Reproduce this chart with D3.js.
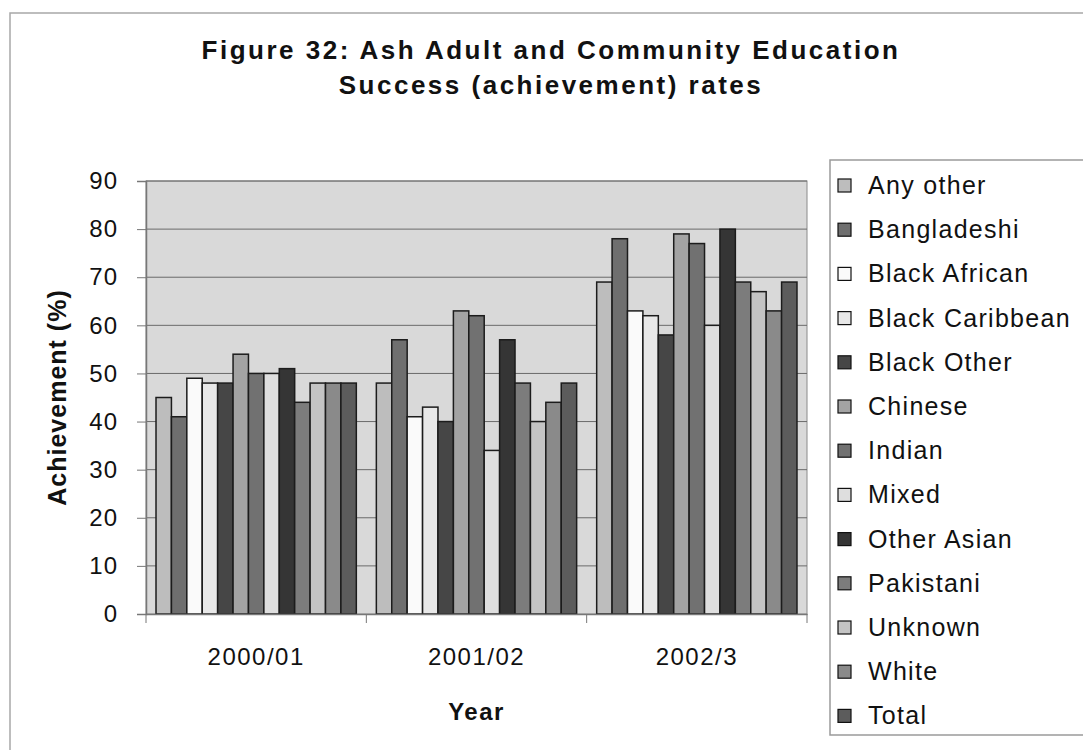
<!DOCTYPE html>
<html>
<head>
<meta charset="utf-8">
<script src="https://cdn.jsdelivr.net/npm/d3@7"></script>
<style>
  body { margin: 0; background: #fff; }
  text { font-family: Arial, "Liberation Sans", sans-serif; fill: #111; }
</style>
</head>
<body>
<div id="chart"></div>
<script>
// Data
const years = ['2000/01', '2001/02', '2002/3'];
const ethnic_groups = ['Any other', 'Bangladeshi', 'Black African', 'Black Caribbean', 'Black Other',
    'Chinese', 'Indian', 'Mixed', 'Other Asian', 'Pakistani', 'Unknown', 'White', 'Total'];
const values_2000_01 = [45, 41, 49, 48, 48, 54, 50, 50, 51, 44, 48, 48, 48];
const values_2001_02 = [48, 57, 41, 43, 40, 63, 62, 34, 57, 48, 40, 44, 48];
const values_2002_3  = [69, 78, 63, 62, 58, 79, 77, 60, 80, 69, 67, 63, 69];
const y_ticks = [0, 10, 20, 30, 40, 50, 60, 70, 80, 90];

const fills = ['#bdbdbd', '#6f6f6f', '#fafafa', '#e8e8e8', '#464646', '#a3a3a3', '#717171',
    '#dedede', '#353535', '#7c7c7c', '#c4c4c4', '#8a8a8a', '#5c5c5c'];

const rows = [values_2000_01, values_2001_02, values_2002_3].map((vals, i) => ({
    year: years[i],
    bars: vals.map((v, j) => ({group: ethnic_groups[j], value: v}))
}));

const width = 1083, height = 750;
const margin = {left: 146, top: 181, right: 276, bottom: 136};
const plot_width = width - margin.left - margin.right;
const plot_height = height - margin.top - margin.bottom;

const svg = d3.select('#chart').append('svg')
    .attr('width', width)
    .attr('height', height);

// outer chart frame
svg.append('rect')
    .attr('x', 10).attr('y', 13)
    .attr('width', width + 20).attr('height', height + 20)
    .attr('fill', '#fff')
    .attr('stroke', '#a8a8a8')
    .attr('stroke-width', 1.5);

// title
const title = svg.append('text')
    .attr('text-anchor', 'middle')
    .style('font-size', '26px')
    .style('font-weight', 'bold')
    .style('letter-spacing', '2.5px');
title.append('tspan').attr('x', 551).attr('y', 59).text('Figure 32: Ash Adult and Community Education');
title.append('tspan').attr('x', 551).attr('y', 94).text('Success (achievement) rates');

const g = svg.append('g').attr('transform', `translate(${margin.left},${margin.top})`);

const x0 = d3.scaleBand().domain(years).range([0, plot_width]);
const x1 = d3.scaleBand().domain(ethnic_groups).range([0, x0.bandwidth()]).paddingOuter(0.65);
const y = d3.scaleLinear().domain([0, 90]).range([plot_height, 0]);

// plot area
g.append('rect')
    .attr('width', plot_width)
    .attr('height', plot_height)
    .attr('fill', '#d9d9d9')
    .attr('stroke', '#8a8a8a');

// gridlines
g.append('g')
    .selectAll('line')
    .data(y_ticks.filter(t => t > 0))
    .enter()
    .append('line')
    .attr('x1', 0).attr('x2', plot_width)
    .attr('y1', d => y(d)).attr('y2', d => y(d))
    .attr('stroke', '#6a6a6a')
    .attr('stroke-width', 1);

// bars
g.selectAll('g.year')
    .data(rows)
    .enter()
    .append('g')
    .attr('class', 'year')
    .attr('transform', d => `translate(${x0(d.year)},0)`)
    .selectAll('rect')
    .data(d => d.bars)
    .enter()
    .append('rect')
    .attr('x', d => x1(d.group))
    .attr('y', d => y(d.value))
    .attr('width', x1.bandwidth())
    .attr('height', d => plot_height - y(d.value))
    .attr('fill', (d, i) => fills[i])
    .attr('stroke', '#1c1c1c')
    .attr('stroke-width', 1.5);

// y axis
const y_axis = d3.axisLeft(y).tickValues(y_ticks).tickSize(9).tickPadding(19);
const yg = g.append('g').call(y_axis);
yg.select('.domain').attr('stroke', '#777').attr('stroke-width', 1.5);
yg.selectAll('line').attr('stroke', '#777');
yg.selectAll('text')
    .style('font-size', '24px')
    .style('letter-spacing', '1px')
    .style('font-family', 'Arial, "Liberation Sans", sans-serif')
    .attr('fill', '#111');

// x axis
const x_axis = d3.axisBottom(x0).tickSize(0).tickPadding(34);
const xg = g.append('g').attr('transform', `translate(0,${plot_height})`).call(x_axis);
xg.select('.domain').attr('stroke', '#777').attr('stroke-width', 1.5);
xg.selectAll('text')
    .style('font-size', '24px')
    .style('letter-spacing', '1.5px')
    .style('font-family', 'Arial, "Liberation Sans", sans-serif')
    .attr('fill', '#111');
// category separators
xg.append('g')
    .selectAll('line')
    .data([0].concat(years.map(yr => x0(yr) + x0.bandwidth())))
    .enter()
    .append('line')
    .attr('x1', d => d).attr('x2', d => d)
    .attr('y1', 0).attr('y2', 9)
    .attr('stroke', '#777');

// axis titles
svg.append('text')
    .attr('text-anchor', 'middle')
    .attr('transform', `translate(66,${margin.top + plot_height / 2})rotate(-90)`)
    .style('font-size', '25px')
    .style('font-weight', 'bold')
    .style('letter-spacing', '1px')
    .text('Achievement (%)');

svg.append('text')
    .attr('text-anchor', 'middle')
    .attr('x', margin.left + plot_width / 2)
    .attr('y', 720)
    .style('font-size', '24px')
    .style('font-weight', 'bold')
    .style('letter-spacing', '1.5px')
    .text('Year');

// legend
const legend = svg.append('g').attr('transform', 'translate(830,160)');
legend.append('rect')
    .attr('width', 280)
    .attr('height', 575)
    .attr('fill', '#fff')
    .attr('stroke', '#9a9a9a')
    .attr('stroke-width', 1.5);

const step = 44.2;
const items = legend.selectAll('g.item')
    .data(ethnic_groups)
    .enter()
    .append('g')
    .attr('class', 'item')
    .attr('transform', (d, i) => `translate(0,${25 + i * step})`);

items.append('rect')
    .attr('x', 8).attr('y', -6)
    .attr('width', 13).attr('height', 13)
    .attr('fill', (d, i) => fills[i])
    .attr('stroke', '#111')
    .attr('stroke-width', 1.2);

items.append('text')
    .attr('x', 38)
    .attr('y', 9)
    .style('font-size', '25px')
    .style('letter-spacing', '1.3px')
    .text(d => d);
</script>
</body>
</html>
